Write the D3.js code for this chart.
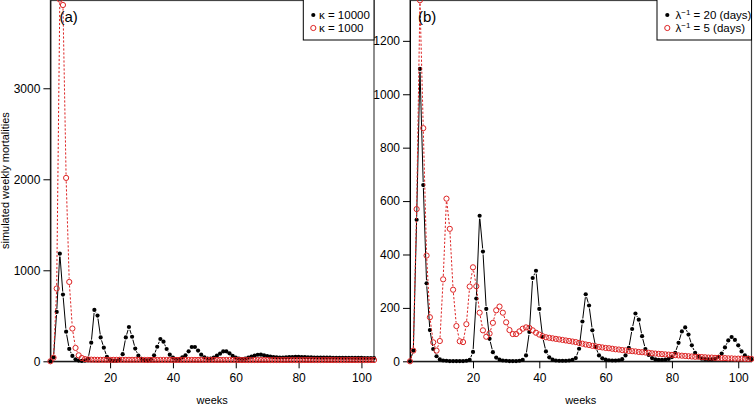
<!DOCTYPE html>
<html><head><meta charset="utf-8">
<script src="https://cdn.jsdelivr.net/npm/d3@7"></script>
<style>
body{margin:0;background:#fff}
svg{display:block}
text{font-family:"Liberation Sans",Arial,Helvetica,sans-serif;fill:#000}
</style>
</head><body>
<svg id="c" width="754" height="406"></svg>
<script>
// ---------- data ----------
const weeks = d3.range(1, 105);
const xTicks = [20, 40, 60, 80, 100];
const yTicksA = [0, 1000, 2000, 3000];
const yTicksB = [0, 200, 400, 600, 800, 1000, 1200];

// panel (a): kappa = 10000 (black dots)
const kappa10000 = [0,44,542,1183,733,326,136,59,22,8,
  4,8,28,205,564,502,262,150,48,14,
  5,6,20,78,262,377,270,140,62,27,
  12,10,25,66,160,245,216,135,73,40,
  25,25,44,66,110,157,157,118,73,44,
  30,29,40,62,84,108,110,88,60,40,
  29,25,29,40,51,62,72,73,66,58,
  52,47,44,42,42,43,45,47,48,48,
  47,46,44,43,42,41,41,40,40,40,
  39,39,39,38,38,38,37,37,37,37,
  36,36,36,36];
// panel (a): kappa = 1000 (red circles)
const kappa1000 = [0,40,800,3975,3915,2015,872,360,147,66,
  36,24,20,18,17,16,16,16,16,16,
  16,16,16,16,16,16,16,16,16,16,
  15,15,15,15,15,15,15,15,15,15,
  15,15,15,15,15,15,15,15,15,15,
  15,15,15,15,15,15,15,15,15,15,
  14,14,14,14,14,14,14,14,14,14,
  14,14,14,14,14,14,14,14,14,14,
  14,14,14,14,14,14,14,14,14,14,
  14,14,14,14,14,14,14,14,14,14,
  14,14,14,14];
// panel (b): 1/lambda = 20 days (black dots)
const lambda20 = [0,40,530,1095,660,292,117,46,19,7,
  3,2,1,1,1,1,1,2,5,35,
  235,545,411,196,84,34,14,6,3,2,
  1,1,1,2,5,22,110,312,339,196,
  91,37,15,6,3,2,2,2,3,5,
  12,47,149,251,209,116,54,22,11,6,
  4,3,3,4,8,22,50,121,179,156,
  94,46,24,12,7,5,5,6,9,16,
  32,69,112,127,100,60,32,17,10,8,
  7,7,9,17,29,52,78,91,80,60,
  37,22,14,8];
// panel (b): 1/lambda = 5 days (red circles)
const lambda5 = [0,40,570,1352,873,396,165,71,40,76,
  307,609,496,268,132,75,72,139,280,352,
  281,182,116,92,104,144,191,205,182,146,
  117,102,102,112,122,127,125,116,107,100,
  94,90,88,86,84,82,80,78,76,74,
  72,69,66,63,61,58,56,54,52,50,
  49,47,45,44,42,41,39,38,37,35,
  34,33,32,30,29,28,27,26,25,24,
  23,22,21,20,19,18,17,17,16,15,
  14,14,13,13,12,12,11,11,10,10,
  10,9,9,9];

// ---------- drawing ----------
const svg = d3.select("#c");
const RED = "#dd2222";
const RB = 2.1, RR = 2.6;

function typeB(g, pts, color, dash, gap) {
  for (let i = 0; i < pts.length - 1; i++) {
    const [x1, y1] = pts[i], [x2, y2] = pts[i + 1];
    const dx = x2 - x1, dy = y2 - y1, d = Math.hypot(dx, dy);
    if (d <= 2 * gap) continue;
    const ux = dx / d, uy = dy / d;
    g.append("line")
      .attr("x1", x1 + ux * gap).attr("y1", y1 + uy * gap)
      .attr("x2", x2 - ux * gap).attr("y2", y2 - uy * gap)
      .attr("stroke", color).attr("stroke-width", 1)
      .attr("stroke-dasharray", dash);
  }
}

function panel(cfg) {
  const x = d3.scaleLinear().domain([1, 104]).range([cfg.left, cfg.right]);
  const y = d3.scaleLinear().domain([0, cfg.ymax]).range([cfg.bottom, cfg.top]);
  const g = svg.append("g");

  // box
  g.append("rect").attr("x", cfg.left).attr("y", cfg.top + 0.5)
    .attr("width", cfg.right - cfg.left).attr("height", cfg.bottom - cfg.top - 0.5)
    .attr("fill", "none").attr("stroke", "#444").attr("stroke-width", 1.2);

  // axes
  const xa = g.append("g").attr("transform", `translate(0,${cfg.bottom})`)
    .call(d3.axisBottom(x).tickValues(xTicks).tickSizeInner(7).tickSizeOuter(0)
      .tickPadding(5).tickFormat(d3.format("d")));
  xa.select(".domain").attr("stroke", "#000");
  xa.selectAll("text").style("font-size", "12px").attr("fill", "#000");
  const ya = g.append("g").attr("transform", `translate(${cfg.left},0)`)
    .call(d3.axisLeft(y).tickValues(cfg.yTicks).tickSizeInner(7).tickSizeOuter(0)
      .tickPadding(3).tickFormat(d3.format("d")));
  ya.select(".domain").attr("stroke", "#000");
  ya.selectAll("text").style("font-size", "12px").attr("fill", "#000");

  g.append("text").attr("x", (cfg.left + cfg.right) / 2).attr("y", 404)
    .attr("text-anchor", "middle").style("font-size", "11px").text("weeks");

  // series
  const inner = g.append("g");
  const ptsB = weeks.map((w, i) => [x(w), y(cfg.black[i])]);
  const ptsR = weeks.map((w, i) => [x(w), y(cfg.red[i])]);
  typeB(inner, ptsB, "#000", null, 3.0);
  inner.selectAll("circle.b").data(ptsB).join("circle").attr("class", "b")
    .attr("cx", d => d[0]).attr("cy", d => d[1]).attr("r", RB).attr("fill", "#000");
  typeB(inner, ptsR, RED, "2.2,1.8", 3.4);
  inner.selectAll("circle.r").data(ptsR).join("circle").attr("class", "r")
    .attr("cx", d => d[0]).attr("cy", d => d[1]).attr("r", RR)
    .attr("fill", "none").attr("stroke", RED).attr("stroke-width", 1);

  // panel tag
  g.append("text").attr("x", cfg.left + cfg.tagDx).attr("y", 22)
    .style("font-size", "15px").text(cfg.tag);

  // legend
  const L = cfg.legend;
  g.append("rect").attr("x", L.x0).attr("y", -1).attr("width", cfg.right - L.x0).attr("height", 41)
    .attr("fill", "#fff").attr("stroke", "#000").attr("stroke-width", 1);
  g.append("circle").attr("cx", L.sx).attr("cy", 15).attr("r", RB).attr("fill", "#000");
  g.append("circle").attr("cx", L.sx).attr("cy", 28).attr("r", RR)
    .attr("fill", "none").attr("stroke", RED).attr("stroke-width", 1);
  L.draw(g.append("text").attr("x", L.tx).attr("y", 19).style("font-size", "11.5px"), 0);
  L.draw(g.append("text").attr("x", L.tx).attr("y", 32).style("font-size", "11.5px"), 1);
}

panel({
  left: 50.4, right: 374, top: 0, bottom: 361.3, ymax: 3970, yTicks: yTicksA,
  black: kappa10000, red: kappa1000, tag: "(a)", tagDx: 9,
  legend: {x0: 303.3, sx: 313.3, tx: 319,
    draw: (t, i) => t.text(i === 0 ? "\u03BA = 10000" : "\u03BA = 1000")}
});
panel({
  left: 410, right: 751.5, top: 0, bottom: 361.3, ymax: 1353, yTicks: yTicksB,
  black: lambda20, red: lambda5, tag: "(b)", tagDx: 8,
  legend: {x0: 657, sx: 667.3, tx: 675.5,
    draw: (t, i) => {
      t.append("tspan").text("\u03BB");
      t.append("tspan").attr("dy", -4).style("font-size", "8px").text("\u22121");
      t.append("tspan").attr("dy", 4).text(i === 0 ? " = 20 (days)" : " = 5 (days)");
    }}
});

// y axis title
svg.append("text").attr("transform", "translate(9,180.6) rotate(-90)")
  .attr("text-anchor", "middle").style("font-size", "11px").text("simulated weekly mortalities");
</script>
</body></html>
